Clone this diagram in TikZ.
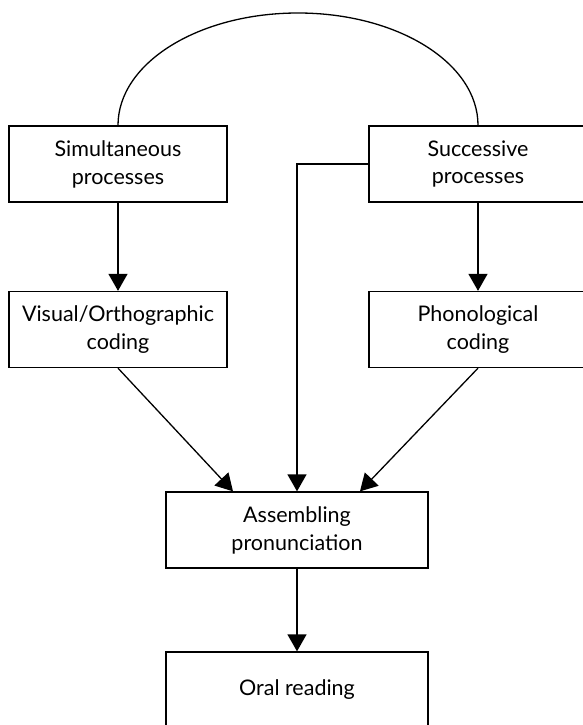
\documentclass[tikz,border=0pt]{standalone}
\usepackage{fontspec}
\setmainfont{Lato}
\usetikzlibrary{arrows.meta}
\begin{document}
\begin{tikzpicture}[x=1pt,y=-1pt, line width=1.3pt,
  box/.style={draw, minimum width=218pt, minimum height=76pt, align=center, inner sep=0pt, font=\fontsize{21.5}{28}\selectfont},
  wbox/.style={box, minimum width=262pt},
  arr/.style={-{Triangle[width=19pt,length=17pt]}}]
\useasboundingbox (0,0) rectangle (583,725);
\node[box] (sim) at (118,164) {Simultaneous\\processes};
\node[box] (suc) at (478,164) {Successive\\processes};
\node[box] (vis) at (118,329.5) {Visual/Orthographic\\coding};
\node[box] (pho) at (478,329.5) {Phonological\\coding};
\node[wbox] (asm) at (297,530) {Assembling\\pronunciation};
\node[wbox] (oral) at (297,690) {Oral reading};
\coordinate (arctop) at (298,13);
\draw (sim.north) .. controls +(0,-62.4) and +(-99.4,0) .. (arctop)
      .. controls +(99.4,0) and +(0,-62.4) .. (suc.north);
\draw[arr] (sim.south) -- (vis.north);
\draw[arr] (suc.south) -- (pho.north);
\draw[arr] (suc.west) -| (asm.north);
\coordinate (al) at ([xshift=-64pt]asm.north);
\coordinate (ar) at ([xshift=63pt]asm.north);
\draw[arr] (vis.south) -- (al);
\draw[arr] (pho.south) -- (ar);
\draw[arr] (asm.south) -- (oral.north);
\end{tikzpicture}
\end{document}
